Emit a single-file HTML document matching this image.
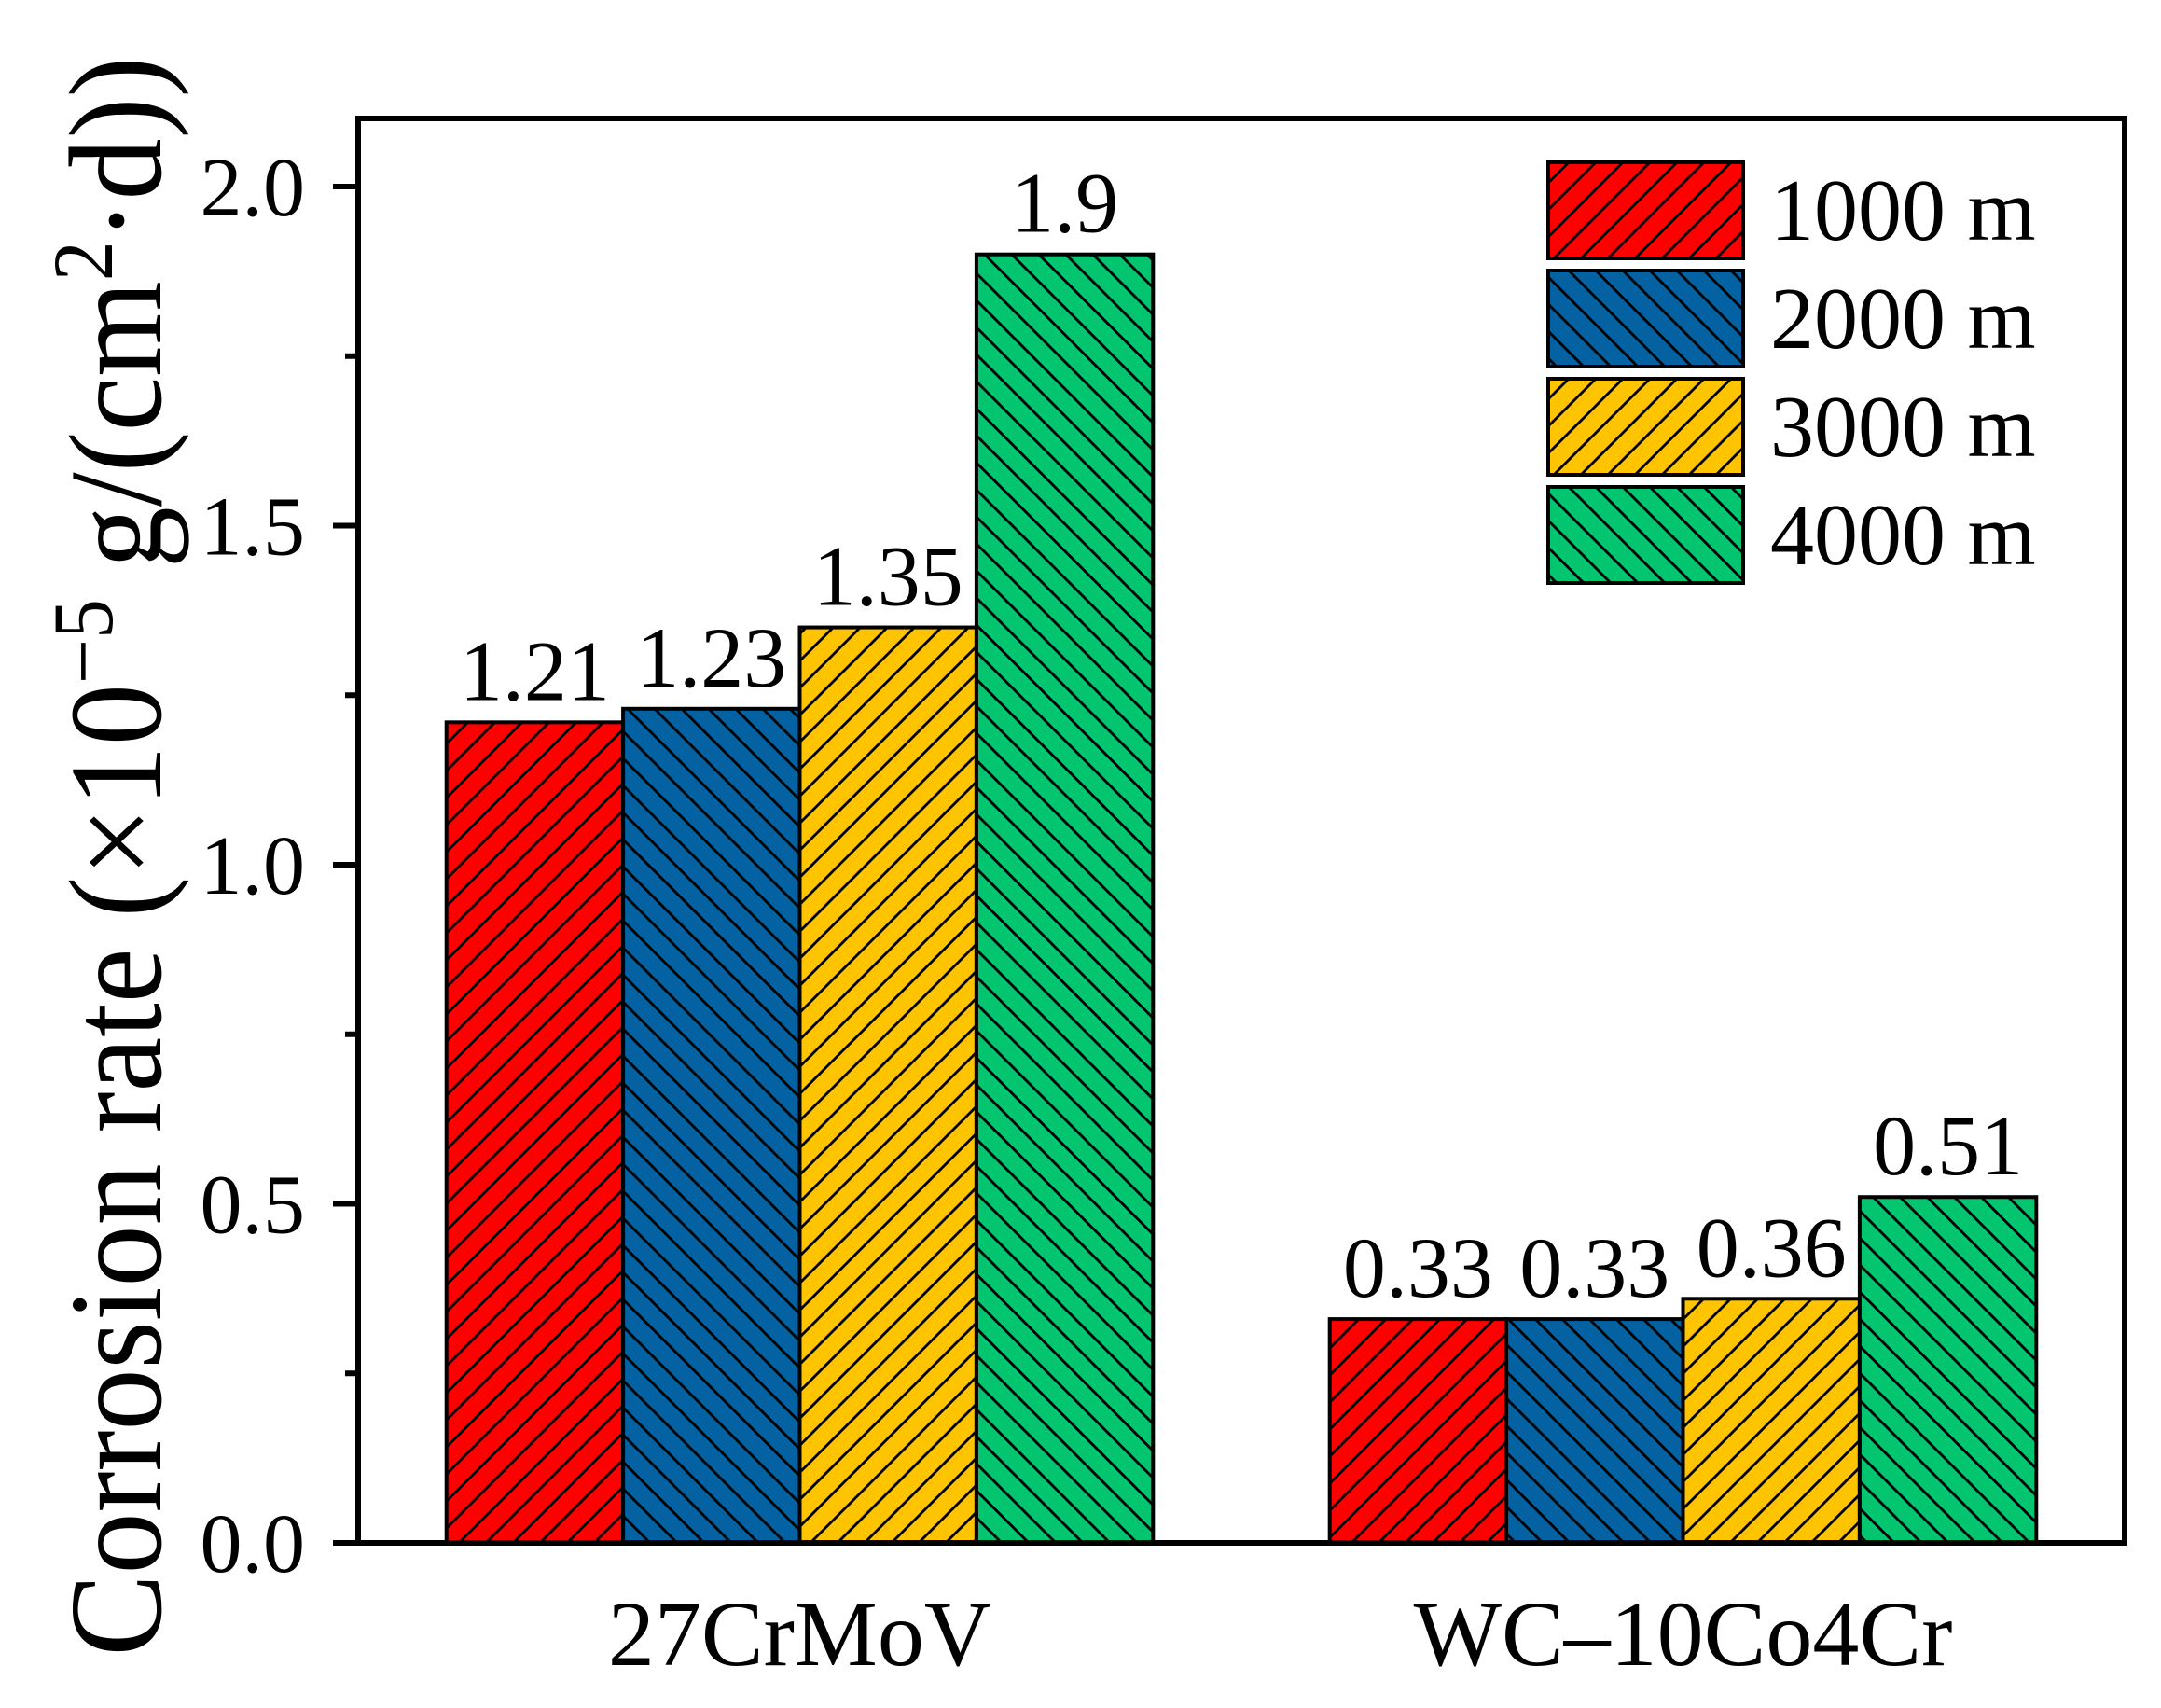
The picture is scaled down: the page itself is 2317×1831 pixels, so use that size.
<!DOCTYPE html>
<html><head><meta charset="utf-8">
<style>
html,body{margin:0;padding:0;background:#fff;}
svg{display:block;font-family:"Liberation Serif",serif;}
</style></head>
<body>
<svg id="chart" width="2317" height="1831" viewBox="0 0 2317 1831" xmlns="http://www.w3.org/2000/svg">
<defs>
  <pattern id="hatch-fwd" patternUnits="userSpaceOnUse" width="29" height="29">
    <path d="M-7,7 L7,-7 M0,29 L29,0 M22,36 L36,22" stroke="#000" stroke-width="2.8"/>
  </pattern>
  <pattern id="hatch-back" patternUnits="userSpaceOnUse" width="29" height="29">
    <path d="M-7,22 L7,36 M0,0 L29,29 M22,-7 L36,7" stroke="#000" stroke-width="2.8"/>
  </pattern>
</defs>
<g id="bars"></g>
<g id="labels"></g>
<g id="axes"></g>
<g id="legend"></g>
<text transform="translate(172,918) rotate(-90)" text-anchor="middle" font-size="142" textLength="1715" lengthAdjust="spacingAndGlyphs">Corrosion rate (×10<tspan dy="-52" font-size="92">−5</tspan><tspan dy="52"> g/(cm</tspan><tspan dy="-52" font-size="92">2</tspan><tspan dy="52">·d))</tspan></text>
</svg>
<script>
const categories = ["27CrMoV", "WC\u201310Co4Cr"];
const seriesNames = ["1000 m", "2000 m", "3000 m", "4000 m"];
const s1000 = [1.21, 0.33];
const s2000 = [1.23, 0.33];
const s3000 = [1.35, 0.36];
const s4000 = [1.9, 0.51];
const valueLabels1000 = ["1.21", "0.33"];
const valueLabels2000 = ["1.23", "0.33"];
const valueLabels3000 = ["1.35", "0.36"];
const valueLabels4000 = ["1.9", "0.51"];
const yTicks = [0, 0.5, 1.0, 1.5, 2.0];
const yTickLabels = ["0.0", "0.5", "1.0", "1.5", "2.0"];
const yMinorTicks = [0.25, 0.75, 1.25, 1.75];

const NS = "http://www.w3.org/2000/svg";
const L = 384, R = 2278, T = 127, B = 1654;
function yScale(v){ return B - v * 727; }
function xScale(u){ return L + (R - L) * u / 4; }
const barW = 0.4;
const fills = ["#ff0000", "#0462a3", "#ffc400", "#03c46f"];
const hatches = ["url(#hatch-fwd)", "url(#hatch-back)", "url(#hatch-fwd)", "url(#hatch-back)"];
const allSeries = [s1000, s2000, s3000, s4000];
const allLabels = [valueLabels1000, valueLabels2000, valueLabels3000, valueLabels4000];

function mk(tag, attrs, parent){
  const e = document.createElementNS(NS, tag);
  for (const k in attrs) e.setAttribute(k, attrs[k]);
  parent.appendChild(e);
  return e;
}
const gb = document.getElementById("bars");
const gl = document.getElementById("labels");
const ga = document.getElementById("axes");
const gleg = document.getElementById("legend");

categories.forEach((c, ci) => {
  const center = 1 + ci * 2;
  allSeries.forEach((s, si) => {
    const x0 = xScale(center - 2 * barW + si * barW);
    const x1 = xScale(center - 2 * barW + (si + 1) * barW);
    const y = yScale(s[ci]);
    const g = mk("g", {}, gb);
    
    
    mk("rect", {x: x0, y: y, width: x1 - x0, height: B - y, fill: fills[si]}, g);
    mk("rect", {x: x0, y: y, width: x1 - x0, height: B - y, fill: hatches[si], stroke: "#000", "stroke-width": 4}, g);
    const t = mk("text", {x: (x0 + x1) / 2, y: y - 24, "text-anchor": "middle", "font-size": 92}, gl);
    
    
    t.textContent = allLabels[si][ci];
  });
  const xl = mk("text", {x: xScale(center), y: 1785, "text-anchor": "middle", "font-size": 100}, ga);
  
  
  xl.textContent = c;
});

const frame = mk("rect", {x: L, y: T, width: R - L, height: B - T, fill: "none", stroke: "#000", "stroke-width": 6}, ga);



yTicks.forEach((v, i) => {
  const y = yScale(v);
  const tk = mk("line", {x1: L - 27, x2: L, y1: y, y2: y, stroke: "#000", "stroke-width": 6}, ga);
  
  
  const tl = mk("text", {x: 327, y: y + 31, "text-anchor": "end", "font-size": 90}, ga);
  
  
  tl.textContent = yTickLabels[i];
});
yMinorTicks.forEach(v => {
  const y = yScale(v);
  const tk = mk("line", {x1: L - 14, x2: L, y1: y, y2: y, stroke: "#000", "stroke-width": 6}, ga);
  
  
});

seriesNames.forEach((n, i) => {
  const y0 = 174 + i * 116;
  const g = mk("g", {}, gleg);
  
  
  mk("rect", {x: 1660, y: y0, width: 209, height: 103, fill: fills[i]}, g);
  mk("rect", {x: 1660, y: y0, width: 209, height: 103, fill: hatches[i], stroke: "#000", "stroke-width": 4}, g);
  const t = mk("text", {x: 1898, y: y0 + 83, "font-size": 94}, g);
  t.textContent = n;
});
</script>
</body></html>
